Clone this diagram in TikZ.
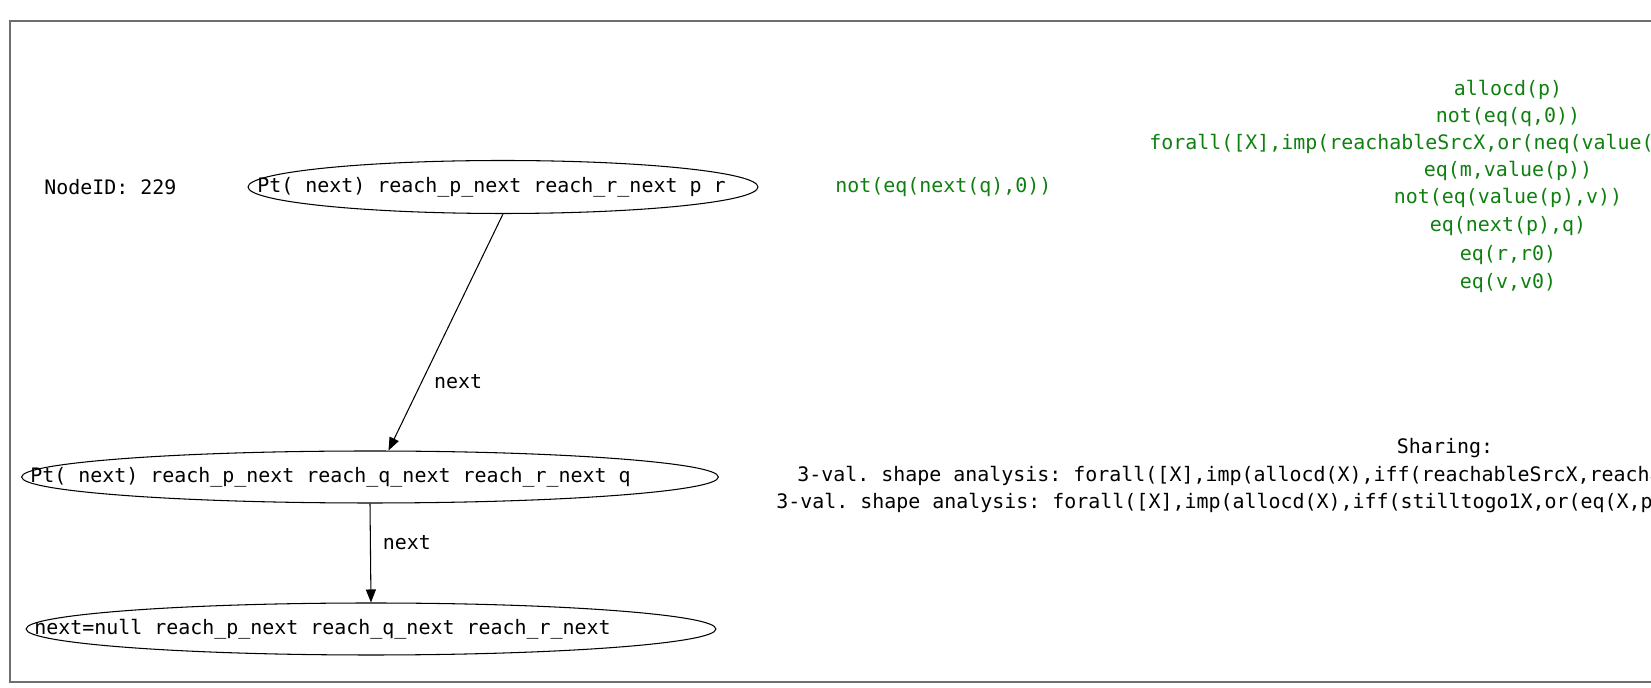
\documentclass[tikz,border=0pt]{standalone}
\usepackage{fontspec}
\setmonofont{DejaVu Sans Mono}
\usetikzlibrary{arrows.meta,shapes.geometric}
\definecolor{predgreen}{RGB}{15,128,15}
\definecolor{framegray}{RGB}{110,110,110}

\begin{document}
\begin{tikzpicture}[x=0.02cm, y=-0.02cm,
  font=\ttfamily\fontsize{11.35}{13}\selectfont,
  blob/.style={ellipse, draw, line width=0.6pt, inner sep=0pt},
  lbl/.style={anchor=west, inner sep=0pt},
  pred/.style={text=predgreen, inner sep=0pt},
  edge/.style={-{Triangle[length=0.26cm, width=0.2cm]}, line width=0.6pt}]
\clip (0,0) rectangle (1651,688);
\draw[framegray, line width=1.3pt] (1700,21) -- (10,21) -- (10,682) -- (1700,682);

% heap graph
\node[lbl] (id) at (44,187) {NodeID: 229};
\node[blob, minimum width=10.2cm, minimum height=1.06cm] (n1) at (503,187) {};
\node[lbl] (t1) at (257,187) {Pt( next) reach\_p\_next reach\_r\_next p r};
\node[blob, minimum width=13.94cm, minimum height=1.04cm] (n2) at (370,477) {};
\node[lbl] (t2) at (30,477) {Pt( next) reach\_p\_next reach\_q\_next reach\_r\_next q};
\node[blob, minimum width=13.8cm, minimum height=1.04cm] (n3) at (371,629) {};
\node[lbl] (t3) at (34,629) {next=null reach\_p\_next reach\_q\_next reach\_r\_next};

\draw[edge] (n1.south) -- (n2.55) node[pos=0.71, anchor=west, xshift=0.12cm] (l1) {next};
\draw[edge] (n2.south) -- (n3.north) node[pos=0.4, anchor=west, xshift=0.12cm] (l2) {next};

% predicates
\node[pred, lbl] (p0) at (835,187) {not(eq(next(q),0))};
\node[pred] (p1) at (1508,90) {allocd(p)};
\node[pred] (p2) at (1508,117) {not(eq(q,0))};
\node[pred, lbl] (p3) at (1149,144) {forall([X],imp(reachableSrcX,or(neq(value(};
\node[pred] (p4) at (1508,171) {eq(m,value(p))};
\node[pred] (p5) at (1508,198) {not(eq(value(p),v))};
\node[pred] (p6) at (1508,226) {eq(next(p),q)};
\node[pred] (p7) at (1508,255) {eq(r,r0)};
\node[pred] (p8) at (1508,283) {eq(v,v0)};

% sharing
\node[inner sep=0pt] (sh) at (1445,448) {Sharing:};
\node[lbl] (s1) at (797,476) {3-val. shape analysis: forall([X],imp(allocd(X),iff(reachableSrcX,reachab};
\node[lbl] (s2) at (776,503) {3-val. shape analysis: forall([X],imp(allocd(X),iff(stilltogo1X,or(eq(X,p1};
\end{tikzpicture}
\end{document}
